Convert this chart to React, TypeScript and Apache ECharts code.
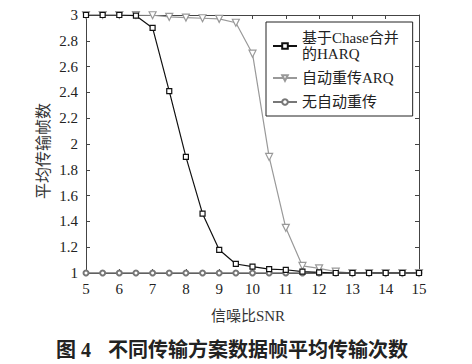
import React, { useEffect, useRef } from "react";
import * as echarts from "echarts";

const snr = [5, 5.5, 6, 6.5, 7, 7.5, 8, 8.5, 9, 9.5, 10, 10.5, 11, 11.5, 12, 12.5, 13, 13.5, 14, 14.5, 15];
const harq = [3, 3, 3, 2.995, 2.9, 2.41, 1.9, 1.46, 1.18, 1.07, 1.05, 1.03, 1.025, 1.01, 1.005, 1, 1, 1, 1, 1, 1];
const arq = [3, 3, 3, 3, 2.998, 2.985, 2.98, 2.975, 2.97, 2.94, 2.7, 1.9, 1.35, 1.055, 1.036, 1.01, 1, 1, 1, 1, 1];
const noArq = [1, 1, 1, 1, 1, 1, 1, 1, 1, 1, 1, 1, 1, 1, 1, 1, 1, 1, 1, 1, 1];
const names = ["基于Chase合并的HARQ", "自动重传ARQ", "无自动重传"];

const FONT = "'Liberation Serif', 'Noto Sans CJK SC', serif";

export default function App() {
  const ref = useRef<HTMLDivElement>(null);
  useEffect(() => {
    const chart = echarts.init(ref.current!, null, { renderer: "svg" });
    const pts = (ys: number[]) => snr.map((x, i) => [x, ys[i]]);
    const axisLine = { show: true, lineStyle: { color: "#444", width: 1 } };
    const tick = { show: true, inside: true, length: 4, lineStyle: { color: "#444" } };
    chart.setOption({
      animation: false,
      textStyle: { fontFamily: FONT },
      grid: { left: 86, right: 53, top: 15, bottom: 91 },
      xAxis: [
        {
          type: "value", min: 5, max: 15, interval: 1,
          axisLine, axisTick: tick, splitLine: { show: false },
          axisLabel: { fontSize: 15, color: "#222", margin: 8, fontFamily: FONT },
        },
        {
          type: "value", min: 5, max: 15, interval: 1, position: "top",
          axisLine, axisTick: tick, splitLine: { show: false }, axisLabel: { show: false },
        },
      ],
      yAxis: [
        {
          type: "value", min: 1, max: 3, interval: 0.2,
          axisLine, axisTick: tick, splitLine: { show: false },
          axisLabel: {
            fontSize: 15, color: "#222", margin: 8, fontFamily: FONT,
            formatter: (v: number) => String(Math.round(v * 10) / 10),
          },
        },
        {
          type: "value", min: 1, max: 3, interval: 0.2, position: "right",
          axisLine, axisTick: tick, splitLine: { show: false }, axisLabel: { show: false },
        },
      ],
      legend: {
        orient: "vertical",
        left: 266, top: 22,
        width: 149,
        borderColor: "#222", borderWidth: 1,
        padding: [8, 14, 6, 6],
        itemWidth: 24, itemHeight: 7, itemGap: 8,
        textStyle: { fontSize: 15, color: "#222", fontFamily: FONT, lineHeight: 16 },
        formatter: (n: string) => (n === names[0] ? "基于Chase合并\n的HARQ" : n),
        data: names,
      },
      graphic: [
        {
          type: "text", x: 248, y: 316,
          style: { text: "信噪比SNR", font: `15px ${FONT}`, fill: "#333", align: "center", verticalAlign: "middle" },
        },
        {
          type: "text", x: 43, y: 151, rotation: Math.PI / 2,
          style: { text: "平均传输帧数", font: `16px ${FONT}`, fill: "#333", align: "center", verticalAlign: "middle" },
        },
        {
          type: "text", x: 56, y: 350,
          style: { text: "图 4", font: `bold 20px ${FONT}`, fill: "#222", verticalAlign: "middle" },
        },
        {
          type: "text", x: 108, y: 350,
          style: { text: "不同传输方案数据帧平均传输次数", font: `bold 20px ${FONT}`, fill: "#222", verticalAlign: "middle" },
        },
      ],
      series: [
        {
          name: names[2], type: "line", data: pts(noArq),
          symbol: "emptyCircle", symbolSize: 5,
          lineStyle: { color: "#777", width: 1.3 },
          itemStyle: { color: "#777", borderWidth: 1.2 },
        },
        {
          name: names[1], type: "line", data: pts(arq),
          symbol: "triangle", symbolRotate: 180, symbolSize: 7,
          lineStyle: { color: "#999", width: 1.2 },
          itemStyle: { color: "#fff", borderColor: "#999", borderWidth: 1.2 },
        },
        {
          name: names[0], type: "line", data: pts(harq),
          symbol: "rect", symbolSize: 5,
          lineStyle: { color: "#111", width: 1.2 },
          itemStyle: { color: "#fff", borderColor: "#111", borderWidth: 1.2 },
        },
      ],
    });
    return () => chart.dispose();
  }, []);
  return <div ref={ref} style={{ position: "fixed", left: 0, top: 0, width: 472, height: 364, background: "#fff" }} />;
}
